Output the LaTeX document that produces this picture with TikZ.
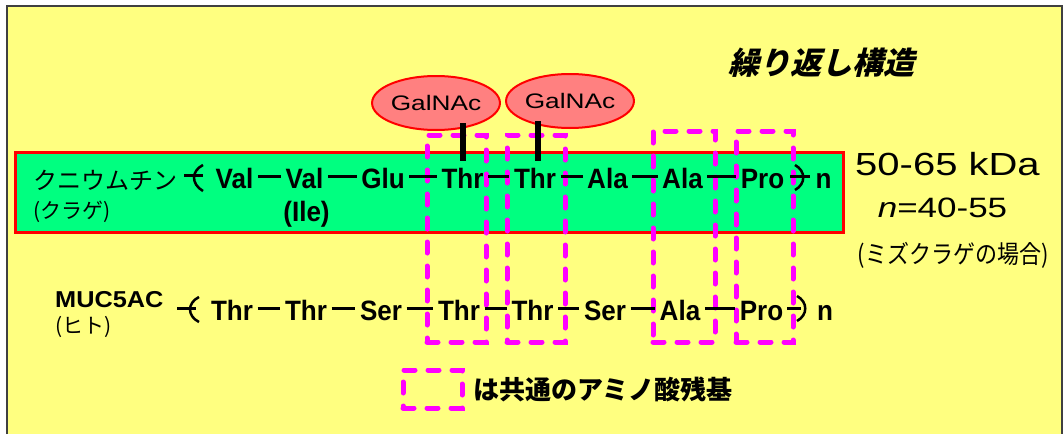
\documentclass[tikz,border=0pt]{standalone}
\usepackage{fontspec}
\usetikzlibrary{shapes.geometric}
\newfontfamily\latA[FakeStretch=1.1]{Liberation Sans}
\newfontfamily\latR[FakeStretch=0.93]{Liberation Sans}
\newfontfamily\latB[FakeStretch=1.25]{Liberation Sans}
\newfontfamily\jp{Noto Sans CJK JP}
\newfontfamily\jpN[FakeStretch=0.88]{Noto Sans CJK JP}
\newfontfamily\jpS[FakeSlant=0.25]{Noto Sans CJK JP}
\definecolor{bgY}{HTML}{FFFF80}
\definecolor{bandG}{HTML}{00FF80}
\definecolor{galR}{HTML}{FF8080}
\definecolor{mag}{HTML}{FF00FF}
\definecolor{frameC}{HTML}{404040}
\begin{document}
\begin{tikzpicture}[x=1pt,y=-1pt,
  res/.style={font=\latR\bfseries\fontsize{28}{28}\selectfont, inner sep=2pt, anchor=base},
  link/.style={line width=3pt, shorten <=2.5pt, shorten >=2.5pt},
  brk/.style={line width=3pt},
  paren/.style={line width=2.5pt},
  mbox/.style={draw=mag, line width=5pt, line cap=round, dash pattern=on 11pt off 13pt, inner sep=0pt},
  gal/.style={ellipse, draw=red, fill=galR, line width=2pt, minimum width=120pt, minimum height=54pt, inner sep=0pt, font=\latB\fontsize{21}{21}\selectfont},
  bar/.style={line width=6.5pt},
  lab/.style={inner sep=0pt}]
\useasboundingbox (0,0) rectangle (1063,434);
% background and frame
\fill[bgY] (8,7) rectangle (1061,434);
\draw[frameC, line width=2.5pt] (7,434) -- (7,6) -- (1062,6) -- (1062,434);
% green band
\node[draw=red, fill=bandG, line width=3pt, minimum width=828pt, minimum height=80pt, inner sep=0pt] (band) at (429,192.5) {};
% magenta boxes
\node[mbox, minimum width=59pt, minimum height=207pt] (m1) at (456.5,238.5) {};
\node[mbox, minimum width=58pt, minimum height=207pt] (m2) at (536,238.5) {};
\node[mbox, minimum width=62pt, minimum height=211pt] (m3) at (684,236.5) {};
\node[mbox, minimum width=57pt, minimum height=211pt] (m4) at (764.5,236.5) {};
\node[mbox, minimum width=59pt, minimum height=38pt] (lg) at (432.5,389) {};
% row coordinates
\coordinate (r1) at (0,176);
\coordinate (r2) at (0,308);
% row 1
\node[lab, font=\jp\fontsize{24}{24}\selectfont, anchor=west] (kn) at (33,180) {クニウムチン};
\node[lab, font=\jp\fontsize{21}{21}\selectfont, anchor=west] (kl) at (33,212) {(クラゲ)};
\node[res] (a1) at (234.5,188) {Val};
\node[res] (a2) at (304.5,188) {Val};
\node[res] (a3) at (383,188) {Glu};
\node[res] (a4) at (462.5,188) {Thr};
\node[res] (a5) at (535,188) {Thr};
\node[res] (a6) at (607.5,188) {Ala};
\node[res] (a7) at (682.5,188) {Ala};
\node[res] (a8) at (762.5,188) {Pro};
\node[res] (a9) at (823.5,188) {n};
\node[res] (ile) at (306.5,221) {(Ile)};
\foreach \p/\q in {a1/a2,a2/a3,a3/a4,a4/a5,a5/a6,a6/a7,a7/a8}
  \draw[link] (\p.east |- r1) -- (\q.west |- r1);
\draw[brk] (184,175) -- (203,175);
\draw[paren] (203,165) .. controls (191,171) and (191,184) .. (203,191);
\draw[brk] (790,176) -- (810,176);
\draw[paren] (795,165) .. controls (806,171) and (806,184) .. (795,190);
% row 2
\node[lab, font=\latA\bfseries\fontsize{23}{23}\selectfont, anchor=base west] (muc) at (55,307) {MUC5AC};
\node[lab, font=\jp\fontsize{21}{21}\selectfont, anchor=west] (hito) at (55,327) {(ヒト)};
\node[res] (b1) at (232,320) {Thr};
\node[res] (b2) at (306,320) {Thr};
\node[res] (b3) at (381,320) {Ser};
\node[res] (b4) at (459,320) {Thr};
\node[res] (b5) at (532.5,320) {Thr};
\node[res] (b6) at (605,320) {Ser};
\node[res] (b7) at (680,320) {Ala};
\node[res] (b8) at (761.5,320) {Pro};
\node[res] (b9) at (825,320) {n};
\foreach \p/\q in {b1/b2,b2/b3,b3/b4,b4/b5,b5/b6,b6/b7,b7/b8}
  \draw[link] (\p.east |- r2) -- (\q.west |- r2);
\draw[brk] (177,308) -- (196,308);
\draw[paren] (199,297) .. controls (187,303) and (187,316) .. (199,322);
\draw[brk] (787,308) -- (801,308);
\draw[paren] (797,296) .. controls (808,302) and (808,315) .. (797,321);
% GalNAc
\node[gal] (g1) at (436,103) {GalNAc};
\node[gal] (g2) at (570,101) {GalNAc};
\draw[bar, shorten <=5pt, shorten >=-8pt] ([xshift=0.5pt]a4.north) -- ([xshift=0.5pt]a4.north |- g1.south);
\draw[bar, shorten <=5pt, shorten >=-8pt] ([xshift=3pt]a5.north) -- ([xshift=3pt]a5.north |- g2.south);
% right labels
\node[lab, font=\latB\fontsize{32}{32}\selectfont, anchor=base] (kda) at (947.5,175) {50-65 kDa};
\node[lab, font=\latB\fontsize{28}{28}\selectfont, anchor=base] (nn) at (942.5,217) {{\itshape n}=40-55};
\node[lab, font=\jpN\fontsize{25}{25}\selectfont] (case) at (953,255) {(ミズクラゲの場合)};
% title
\node[lab, font=\jpS\bfseries\fontsize{31}{31}\selectfont] (title) at (821.5,63) {繰り返し構造};
% legend text
\node[lab, font=\jp\bfseries\fontsize{26}{26}\selectfont, anchor=west] (lt) at (473,389) {は共通のアミノ酸残基};
\end{tikzpicture}
\end{document}
